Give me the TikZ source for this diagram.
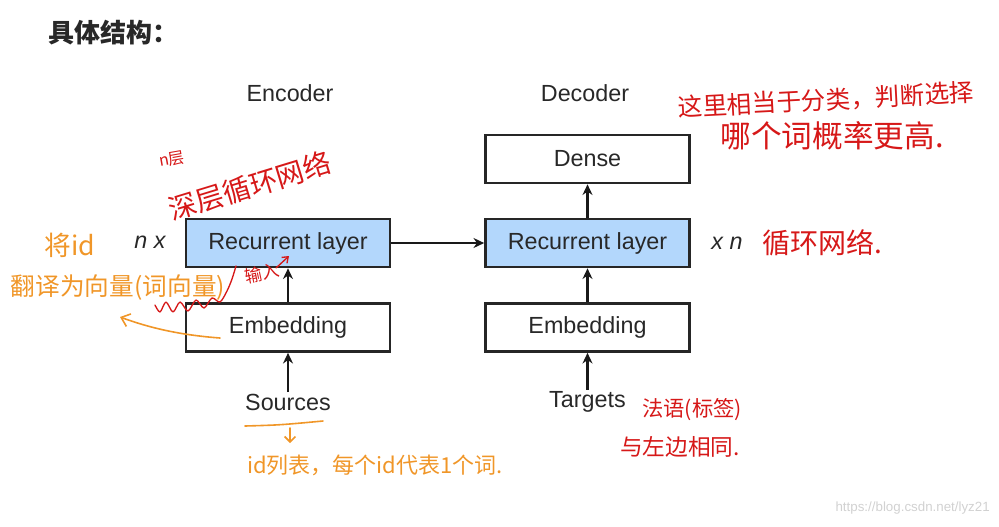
\documentclass[tikz,border=0pt]{standalone}
\usepackage{fontspec}
\setmainfont{Liberation Sans}
\newfontfamily\cjk{Noto Sans CJK SC}
\usetikzlibrary{arrows.meta}
\definecolor{boxblue}{RGB}{179,215,252}
\definecolor{hred}{RGB}{214,24,24}
\definecolor{horange}{RGB}{240,150,40}
\definecolor{txt}{RGB}{40,40,40}
\begin{document}
\begin{tikzpicture}[x=0.75pt,y=-0.75pt,
 box/.style={draw=black!85, line width=2pt, minimum width=153pt, minimum height=36pt, inner sep=0pt, font=\fontsize{17.5}{20}\selectfont, text=txt},
 lbl/.style={font=\fontsize{17.5}{20}\selectfont, text=txt, inner sep=1pt},
 flow/.style={-{Stealth[length=8pt,width=7.5pt]}, line width=2pt, draw=black!90},
 redn/.style={text=hred, inner sep=0pt},
 orn/.style={text=horange, inner sep=0pt},
 redl/.style={draw=hred, line width=1pt, line cap=round, line join=round},
 orl/.style={draw=horange, line width=1.2pt, line cap=round, line join=round}]
\useasboundingbox (0,0) rectangle (999,526);

% title
\node[anchor=west, text=txt, inner sep=0pt] (title) at (48,33) {\cjk\fontsize{19.5}{22}\selectfont\bfseries 具体结构：};

% headers
\node[lbl] (enc) at (290,93) {Encoder};
\node[lbl] (dec) at (585,93) {Decoder};

% boxes
\node[box, fill=boxblue] (erec) at (288,243) {Recurrent layer};
\node[box, fill=white] (eemb) at (288,327.5) {Embedding};
\node[box, fill=white] (ddense) at (587.5,159) {Dense};
\node[box, fill=boxblue] (drec) at (587.5,243) {Recurrent layer};
\node[box, fill=white] (demb) at (587.5,327.5) {Embedding};

\node[lbl] (nx) at (150,242) {\itshape n x};
\node[lbl] (xn) at (727,243) {\itshape x n};
\node[lbl] (src) at (288,402) {Sources};
\node[lbl] (tgt) at (587.5,402) {Targets};

% flows
\draw[flow] (src.north) -- (eemb.south);
\draw[flow] (eemb.north) -- (erec.south);
\draw[flow] (erec.east) -- (drec.west);
\draw[flow] (tgt.north) -- (demb.south);
\draw[flow] (demb.north) -- (drec.south);
\draw[flow] (drec.north) -- (ddense.south);

% red annotations
\node[redn, rotate=10] (nceng) at (172,159) {\cjk\fontsize{12}{14}\selectfont n层};
\node[redn, rotate=17] (deep) at (250,186) {\cjk\fontsize{21}{24}\selectfont 深层循环网络};
\node[redn, rotate=3] (cls1) at (826,100) {\cjk\fontsize{18.5}{22}\selectfont 这里相当于分类，判断选择};
\node[redn] (cls2) at (832,136) {\cjk\fontsize{23}{26}\selectfont 哪个词概率更高.};
\node[redn] (rnn) at (822,243) {\cjk\fontsize{21}{24}\selectfont 循环网络.};
\node[redn, rotate=12] (input) at (262,273) {\cjk\fontsize{13}{15}\selectfont 输入};
\node[redn] (fr1) at (692,410) {\cjk\fontsize{16}{19}\selectfont 法语(标签)};
\node[redn] (fr2) at (680,447) {\cjk\fontsize{17}{20}\selectfont 与左边相同.};
\draw[redl] plot[smooth] coordinates {(155,305) (160,312) (166,302) (173,312) (180,302) (188,311) (196,300) (204,308) (212,298) (220,302) (227,291) (232,279) (236,266)};
\draw[redl, -{Straight Barb[length=4pt,width=6pt]}] (276,268) -- (289,256);

% orange annotations
\node[orn] (jiang) at (70,245) {\cjk\fontsize{20}{24}\selectfont 将id};
\node[orn] (trans) at (118,288) {\cjk\fontsize{18.5}{22}\selectfont 翻译为向量(词向量)};
\node[orn] (idlist) at (375,465) {\cjk\fontsize{16.5}{20}\selectfont id列表，每个id代表1个词.};
\draw[orl, {Straight Barb[length=6pt,width=10pt]}-] (120,317) .. controls (150,328) and (180,335) .. (220,338);
\draw[orl] (245,426) .. controls (280,425) .. (323,421);
\draw[orl, -{Straight Barb[length=4pt,width=8pt]}] (290,428) -- (290,443);

% watermark
\node[anchor=east, text=black!18, inner sep=0pt] (wm) at (990,508) {\fontsize{10}{12}\selectfont https://blog.csdn.net/lyz21};
\end{tikzpicture}
\end{document}
